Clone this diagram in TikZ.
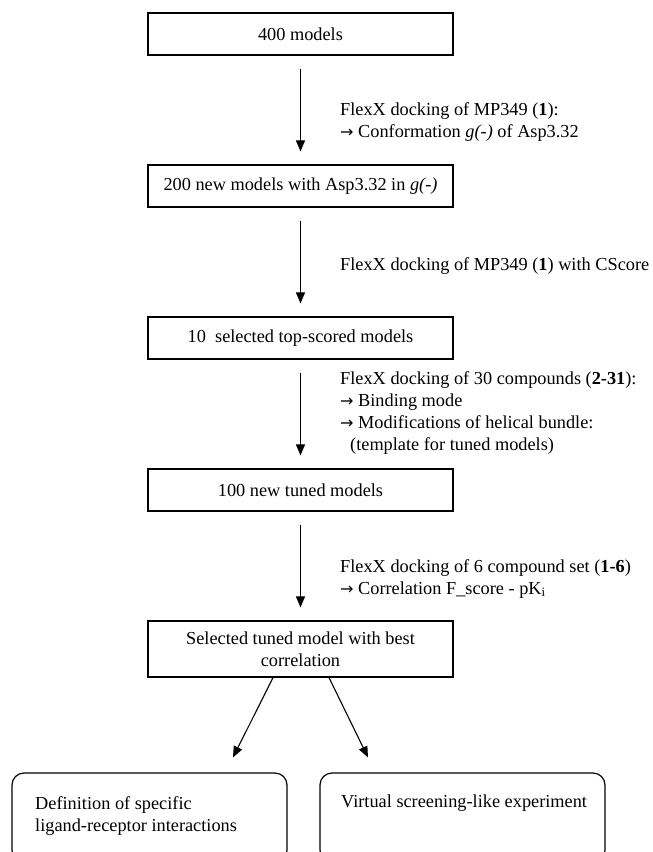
\documentclass[tikz,border=0pt]{standalone}
\usepackage{fontspec}
\setmainfont{Liberation Serif}
\newfontfamily\arrowfont{DejaVu Sans}
\newcommand{\rarr}{{\arrowfont\fontsize{16}{22}\selectfont →}}
\usetikzlibrary{arrows.meta,calc}
\begin{document}
\begin{tikzpicture}[x=1pt,y=-1pt,
  font=\fontsize{18.3}{22}\selectfont,
  box/.style={draw, line width=1.2pt, minimum width=305pt, minimum height=42pt, inner sep=0pt, align=center},
  rbox/.style={draw, line width=1.2pt, rounded corners=12pt, inner sep=0pt, minimum height=89pt},
  arr/.style={line width=1.1pt, -{Triangle[length=11pt,width=9pt]}},
  vflow/.style={arr, shorten <=13pt, shorten >=13pt},
  lab/.style={anchor=west, align=left, inner sep=0pt}]
\useasboundingbox (0,0) rectangle (653,852);
\fill[white] (0,0) rectangle (653,852);

\node[box] (b1) at (300.5,34) {400 models};
\node[box] (b2) at (300.5,186) {200 new models with Asp3.32 in \textit{g(-)}};
\node[box] (b3) at (300.5,338) {10\ \ selected top-scored models};
\node[box] (b4) at (300.5,490) {100 new tuned models};
\node[box, minimum height=56pt] (b5) at (300.5,649) {Selected tuned model with best\\correlation};

\node[rbox, minimum width=275pt] (d1) at (149.5,817.5) {};
\node[rbox, minimum width=285pt] (d2) at (462.5,817.5) {};
\node[lab] (t1) at (35,816) {Definition of specific\\ligand-receptor interactions};
\node[lab] (t2) at (341,803) {Virtual screening-like experiment};

\draw[vflow] (b1) -- (b2);
\draw[vflow] (b2) -- (b3);
\draw[vflow] (b3) -- (b4);
\draw[vflow] (b4) -- (b5);
\draw[arr] ([xshift=-27.5pt]b5.south) -- ([xshift=83.5pt,yshift=15pt]d1.north);
\draw[arr] ([xshift=28.5pt]b5.south) -- ([xshift=-94.5pt,yshift=15pt]d2.north);

\node[lab] (l1) at (340,122) {FlexX docking of MP349 (\textbf{1}):\\\rarr{} Conformation \textit{g(-)} of Asp3.32};
\node[lab] (l2) at (340,266) {FlexX docking of MP349 (\textbf{1}) with CScore};
\node[lab] (l3) at (340,413) {FlexX docking of 30 compounds (\textbf{2-31}):\\\rarr{} Binding mode\\\rarr{} Modifications of helical bundle:\\\hspace*{10pt}(template for tuned models)};
\node[lab] (l4) at (340,578.5) {FlexX docking of 6 compound set (\textbf{1-6})\\\rarr{} Correlation F\_score - pK\textsubscript{i}};
\end{tikzpicture}
\end{document}
